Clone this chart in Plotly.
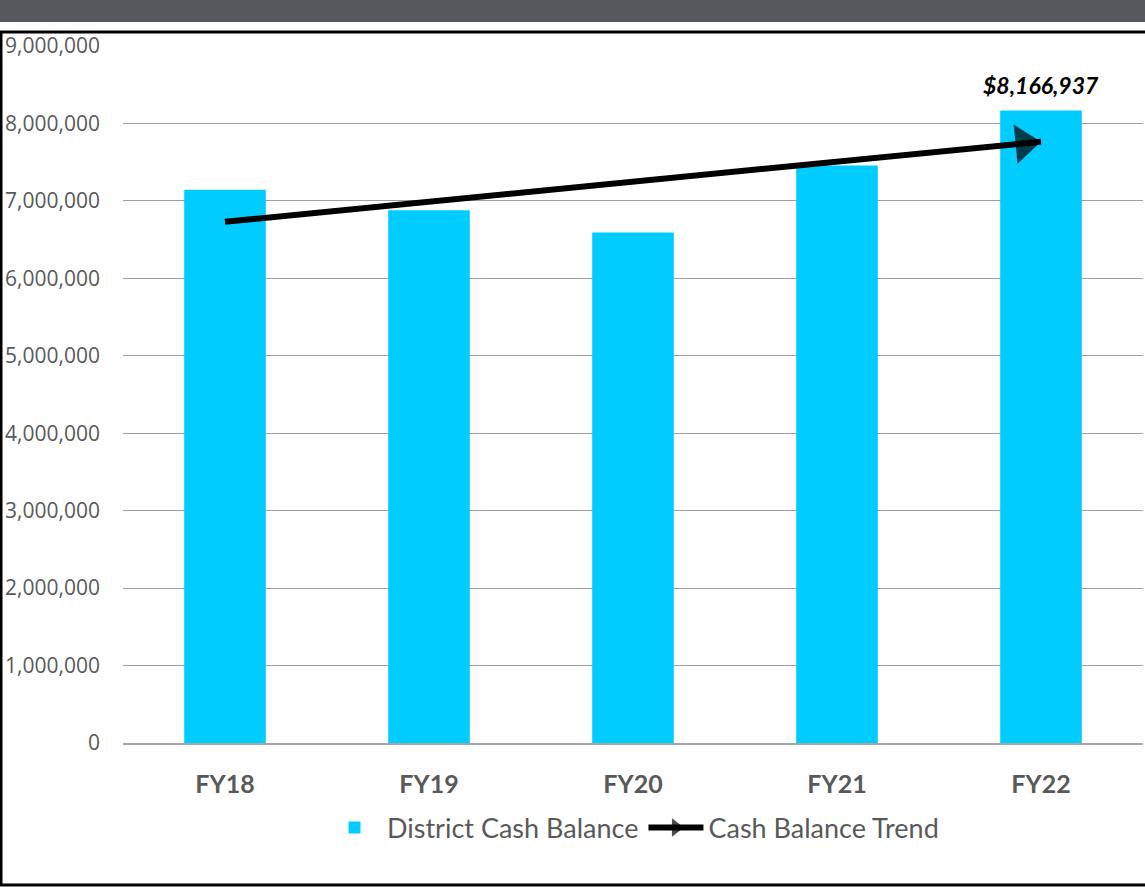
import plotly.graph_objects as go

# ---- data ----
categories = ["FY18", "FY19", "FY20", "FY21", "FY22"]
cash_balance = [7143000, 6880000, 6591000, 7457000, 8166937]
trend_x = ["FY18", "FY22"]
trend_y = [6730000, 7765000]
y_ticks = [0, 1000000, 2000000, 3000000, 4000000, 5000000, 6000000, 7000000, 8000000, 9000000]
series_names = ["District Cash Balance", "Cash Balance Trend"]

W, H = 1145, 887
ML, MR, MT, MB = 123, 2, 46, 144
PW = W - ML - MR
PH = H - MT - MB


def px_to_paper_x(px):
    return (px - ML) / PW


def px_to_paper_y(py):
    return (H - MB - py) / PH


fig = go.Figure()
fig.add_trace(go.Bar(
    x=categories, y=cash_balance, name=series_names[0],
    marker=dict(color="#00CCFF", line=dict(width=0)),
))
fig.add_trace(go.Scatter(
    x=trend_x, y=trend_y, name=series_names[1], mode="lines+markers",
    line=dict(color="black", width=6, backoff=[0, 14]),
    marker=dict(symbol="triangle-up", size=[0, 34], angleref="previous",
                standoff=[0, 17], color="black", line=dict(width=0)),
))

label_val = cash_balance[-1]
fig.add_annotation(
    x=categories[-1], y=label_val, text=f"<b><i>${label_val:,.0f}</i></b>",
    showarrow=False, yanchor="bottom", yshift=10,
    font=dict(family="Lato", size=23, color="black"),
)

# top banner and frame
fig.add_shape(type="rect", xref="paper", yref="paper",
              x0=px_to_paper_x(0), x1=px_to_paper_x(W),
              y0=px_to_paper_y(22), y1=px_to_paper_y(0),
              fillcolor="#54575C", line=dict(width=0), layer="below")
fig.add_shape(type="rect", xref="paper", yref="paper",
              x0=px_to_paper_x(1), x1=px_to_paper_x(W + 3),
              y0=px_to_paper_y(885), y1=px_to_paper_y(32),
              fillcolor="rgba(0,0,0,0)", line=dict(color="black", width=3), layer="above")

fig.update_layout(
    width=W, height=H,
    margin=dict(l=ML, r=MR, t=MT, b=MB),
    paper_bgcolor="white", plot_bgcolor="white",
    bargap=0.6,
    showlegend=True,
    legend=dict(orientation="h", x=0.5, xanchor="center",
                y=px_to_paper_y(828), yanchor="middle",
                font=dict(family="Lato", size=27, color="#595959"),
                itemwidth=55, traceorder="normal"),
    xaxis=dict(
        showgrid=False, showline=True, linecolor="#A6A6A6", linewidth=1.5,
        tickfont=dict(family="Lato", size=25, color="#595959", weight="bold"),
        ticks="", ticklabelstandoff=18,
    ),
    yaxis=dict(
        range=[0, 9000000], tickvals=y_ticks, tickformat=",d",
        showgrid=True, gridcolor="#A0A0A0", gridwidth=1,
        zeroline=False, showline=False,
        tickfont=dict(family="Open Sans", size=21, color="#595959"),
        ticks="", ticklabelstandoff=22,
    ),
)

fig.write_html("out.html", post_script="document.body.style.margin='0';",
               config={"displayModeBar": False})
